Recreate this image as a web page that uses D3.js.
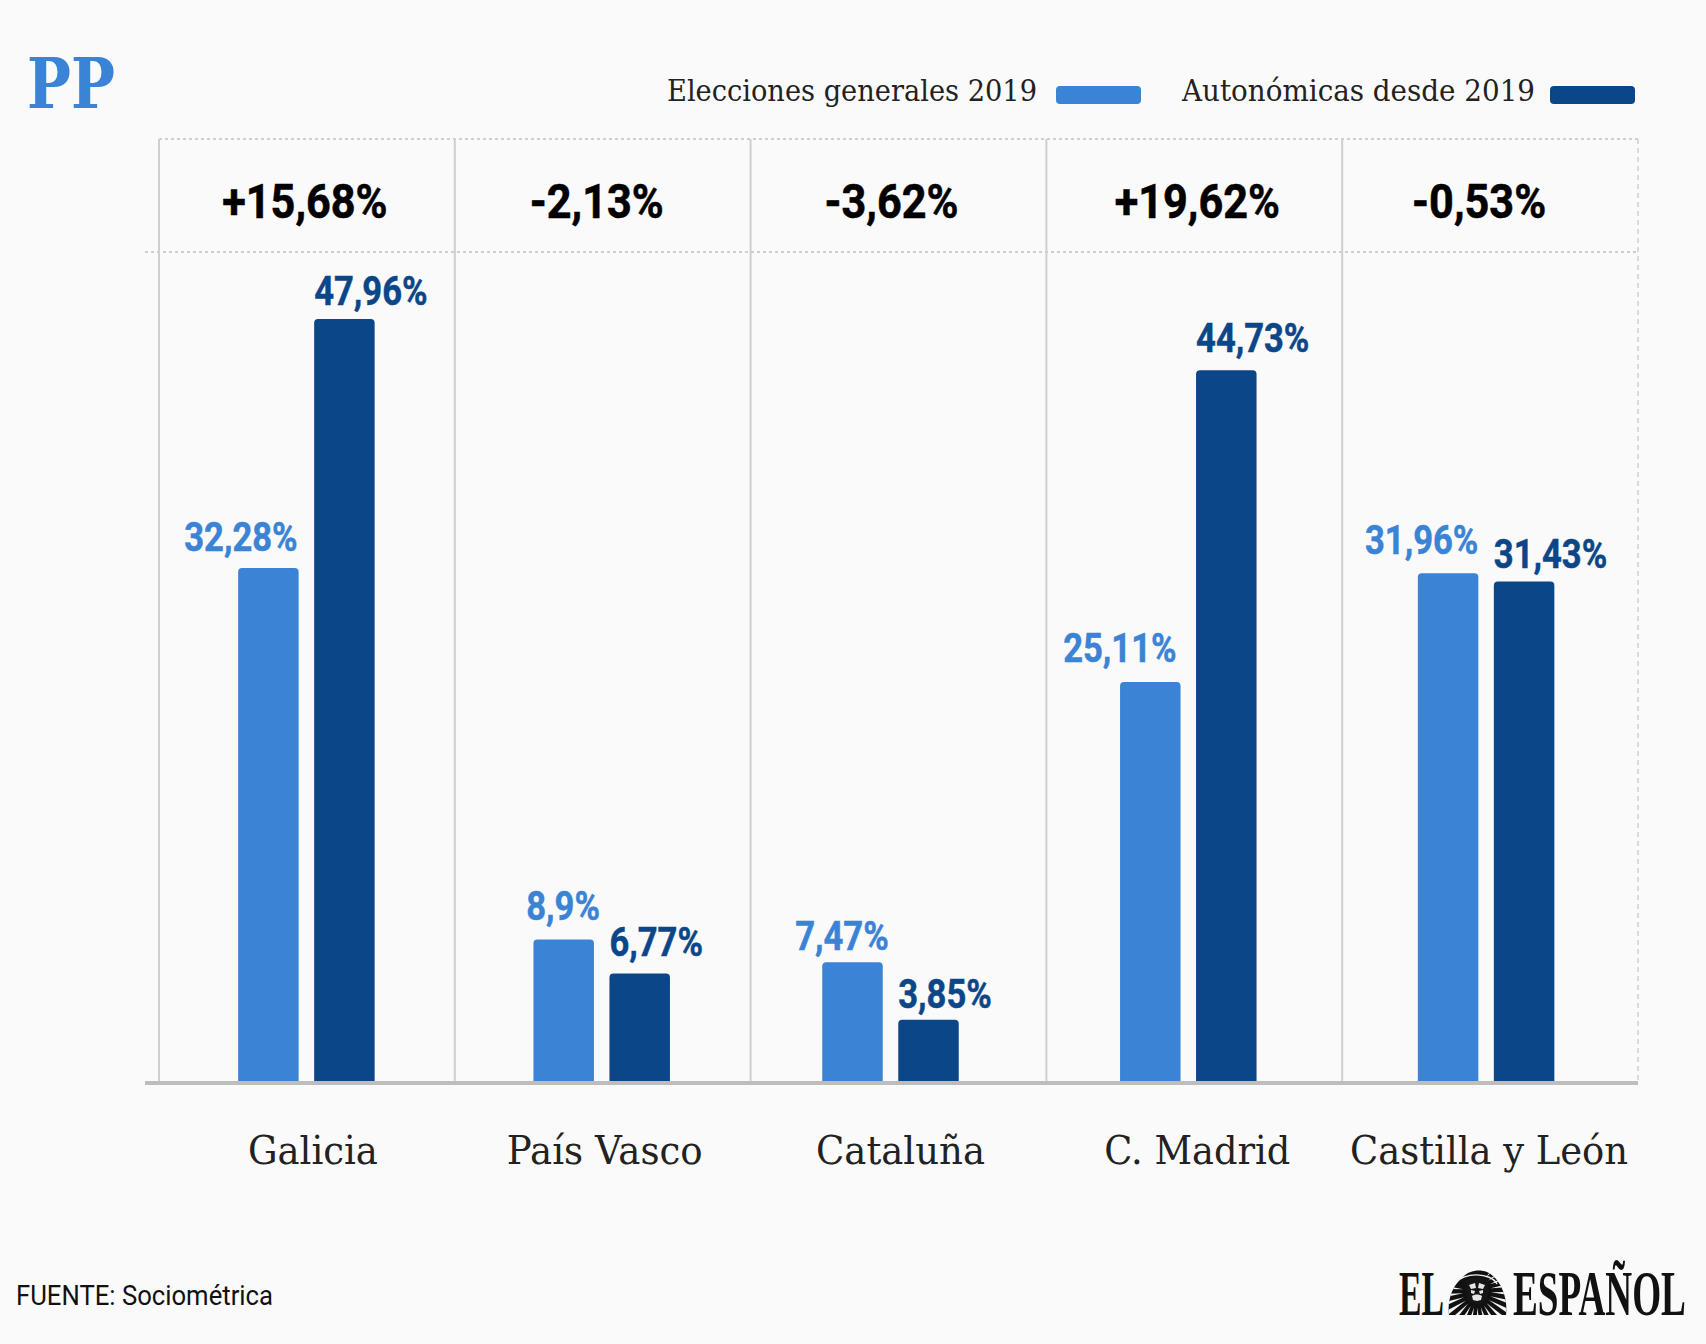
<!DOCTYPE html>
<html lang="es">
<head>
<meta charset="utf-8">
<title>PP: elecciones generales y autonómicas</title>
<script src="https://cdn.jsdelivr.net/npm/d3@7/dist/d3.min.js"></script>
<style>
  html, body { margin: 0; padding: 0; background: #fafafa; }
  svg { display: block; }
</style>
</head>
<body>
<svg id="chart" width="1706" height="1344"></svg>
<script>
// Vote share of the PP per region
const regions = ["Galicia", "País Vasco", "Cataluña", "C. Madrid", "Castilla y León"];
const generales = [32.28, 8.9, 7.47, 25.11, 31.96];
const autonomicas = [47.96, 6.77, 3.85, 44.73, 31.43];
const diferencias = ["+15,68%", "-2,13%", "-3,62%", "+19,62%", "-0,53%"];
const generalesLabels = ["32,28%", "8,9%", "7,47%", "25,11%", "31,96%"];
const autonomicasLabels = ["47,96%", "6,77%", "3,85%", "44,73%", "31,43%"];
const seriesNames = ["Elecciones generales 2019", "Autonómicas desde 2019"];

// Layout
const W = 1706, H = 1344;
const baseY = 1081, panelTop = 139, panelSplit = 252;
const gridLeft = 159, gridRight = 1638;
const barW = 60.5, barGap = 15.5;
const LIGHT = "#3b83d5", DARK = "#0b4689", GRID = "#cfcfcf";
const SERIF = "'DejaVu Serif', serif", SANS = "Roboto, sans-serif";

// Per-region hand adjustments of the groups and labels
const groupNudge = [-0.5, -1, -8, -6, -4];
const categoryNudge = [6, 2, 2, 3, -1];
const diffNudge = [-2, -6, -7, 3, -11];
const lightLabelDx = [-1, 6, 6, -4, 0];
const lightLabelLift = [17, 20, 12, 20, 19];
const darkLabelLift = [14, 17, 12, 18, 14];

const svg = d3.select("#chart");
svg.append("rect").attr("width", W).attr("height", H).attr("fill", "#fafafa");

const x = d3.scaleBand().domain(regions).range([gridLeft, gridRight]);
const y = d3.scaleLinear().domain([0, 50]).range([baseY, baseY - 794.5]);

// Squeezes a text horizontally around its anchor to mimic a condensed cut
function condense(sel, ratio) {
  sel.each(function () {
    const len = this.getComputedTextLength();
    this.setAttribute("textLength", len * ratio);
    this.setAttribute("lengthAdjust", "spacingAndGlyphs");
  });
  return sel;
}
function fitWidth(sel, width) {
  sel.attr("textLength", width).attr("lengthAdjust", "spacingAndGlyphs");
  return sel;
}

// Gridlines
const grid = svg.append("g");
const edges = regions.map(r => x(r));
grid.selectAll("line.v").data(edges).join("line").attr("class", "v")
  .attr("x1", d => d).attr("x2", d => d)
  .attr("y1", panelTop).attr("y2", baseY)
  .attr("stroke", GRID).attr("stroke-width", 2);
grid.append("line")
  .attr("x1", gridRight).attr("x2", gridRight).attr("y1", panelTop).attr("y2", baseY)
  .attr("stroke", GRID).attr("stroke-width", 1.5).attr("stroke-dasharray", "5 4");
grid.append("line")
  .attr("x1", gridLeft).attr("x2", gridRight).attr("y1", panelTop).attr("y2", panelTop)
  .attr("stroke", GRID).attr("stroke-width", 2).attr("stroke-dasharray", "3 3");
grid.append("line")
  .attr("x1", 145).attr("x2", gridRight).attr("y1", panelSplit).attr("y2", panelSplit)
  .attr("stroke", GRID).attr("stroke-width", 2).attr("stroke-dasharray", "3 3");

// Bars with slightly rounded tops
function barPath(x0, w, top, bottom, r) {
  const p = d3.path();
  p.moveTo(x0, bottom);
  p.lineTo(x0, top + r);
  p.quadraticCurveTo(x0, top, x0 + r, top);
  p.lineTo(x0 + w - r, top);
  p.quadraticCurveTo(x0 + w, top, x0 + w, top + r);
  p.lineTo(x0 + w, bottom);
  p.closePath();
  return p.toString();
}
const center = (i) => x(regions[i]) + x.bandwidth() / 2 + groupNudge[i];
const lightX = (i) => center(i) - barGap / 2 - barW;
const darkX = (i) => center(i) + barGap / 2;

svg.append("g").selectAll("path").data(generales).join("path")
  .attr("d", (d, i) => barPath(lightX(i), barW, y(d), baseY, 4))
  .attr("fill", LIGHT);
svg.append("g").selectAll("path").data(autonomicas).join("path")
  .attr("d", (d, i) => barPath(darkX(i), barW, y(d), baseY, 4))
  .attr("fill", DARK);

// Baseline
svg.append("line")
  .attr("x1", 145).attr("x2", gridRight).attr("y1", baseY + 2).attr("y2", baseY + 2)
  .attr("stroke", "#bdbdbd").attr("stroke-width", 4);

// Bar value labels
svg.append("g").selectAll("text").data(generales).join("text")
  .attr("x", (d, i) => lightX(i) + barW + lightLabelDx[i])
  .attr("y", (d, i) => y(d) - lightLabelLift[i])
  .attr("text-anchor", "end")
  .attr("font-family", SANS).attr("font-weight", 700).attr("font-size", 40)
  .attr("fill", LIGHT).attr("stroke", LIGHT).attr("stroke-width", 0.5)
  .text((d, i) => generalesLabels[i])
  .call(condense, 0.864);
svg.append("g").selectAll("text").data(autonomicas).join("text")
  .attr("x", (d, i) => darkX(i))
  .attr("y", (d, i) => y(d) - darkLabelLift[i])
  .attr("text-anchor", "start")
  .attr("font-family", SANS).attr("font-weight", 700).attr("font-size", 40)
  .attr("fill", DARK).attr("stroke", DARK).attr("stroke-width", 0.5)
  .text((d, i) => autonomicasLabels[i])
  .call(condense, 0.864);

// Differences in the top strip
svg.append("g").selectAll("text").data(diferencias).join("text")
  .attr("x", (d, i) => x(regions[i]) + x.bandwidth() / 2 + diffNudge[i])
  .attr("y", 218)
  .attr("text-anchor", "middle")
  .attr("font-family", SANS).attr("font-weight", 700).attr("font-size", 49)
  .attr("fill", "#000").attr("stroke", "#000").attr("stroke-width", 0.6)
  .text(d => d)
  .call(condense, 0.882);

// Category labels
const categoryWidths = [130, 196, 169, 186, 278];
svg.append("g").selectAll("text").data(regions).join("text")
  .attr("x", (d, i) => x(d) + x.bandwidth() / 2 + categoryNudge[i])
  .attr("y", 1164)
  .attr("text-anchor", "middle")
  .attr("font-family", SERIF).attr("font-size", 40)
  .attr("fill", "#222")
  .text(d => d)
  .each(function (d, i) {
    this.setAttribute("textLength", categoryWidths[i]);
    this.setAttribute("lengthAdjust", "spacingAndGlyphs");
  });

// Title
svg.append("text").attr("x", 27).attr("y", 108)
  .attr("font-family", SERIF).attr("font-weight", 700).attr("font-size", 69)
  .attr("fill", LIGHT).text("PP")
  .call(fitWidth, 88);

// Legend
const legend = svg.append("g");
const legendTextX = [667, 1182], legendTextW = [370, 353];
const legendSwatchX = [1056, 1550], legendColors = [LIGHT, DARK];
seriesNames.forEach((name, i) => {
  legend.append("text").attr("x", legendTextX[i]).attr("y", 101)
    .attr("font-family", SERIF).attr("font-size", 30).attr("fill", "#222")
    .text(name).call(fitWidth, legendTextW[i]);
  legend.append("rect").attr("x", legendSwatchX[i]).attr("y", 86)
    .attr("width", 85).attr("height", 18).attr("rx", 4)
    .attr("fill", legendColors[i]);
});

// Source note
svg.append("text").attr("x", 16).attr("y", 1305)
  .attr("font-family", SANS).attr("font-size", 28).attr("fill", "#111")
  .text("FUENTE: Sociométrica").call(fitWidth, 257);

// Publisher wordmark, squeezed with a transform so its box stays honest
const logo = svg.append("g");
const logoFont = "'Liberation Serif', serif";
function wordmark(text, left, width) {
  const t = logo.append("text")
    .attr("font-family", logoFont).attr("font-weight", 700).attr("font-size", 64)
    .attr("fill", "#111").text(text);
  const natural = t.node().getComputedTextLength();
  t.attr("transform", `translate(${left},1315) scale(${width / natural},1)`);
}
wordmark("EL", 1399, 45);
wordmark("ESPAÑOL", 1513, 173);

// Lion head: dark mane cut by radial highlights, pale crown band and face marks
const lion = logo.append("g").attr("transform", "translate(1477,1297)");
const manePath = "M-28,18 C-30,2 -24,-12 -14,-20 C-7,-28 8,-29 16,-21 C25,-13 31,2 29,18 Z";
const defs = svg.append("defs");
defs.append("clipPath").attr("id", "mane-clip").append("path").attr("d", manePath);
lion.append("path").attr("d", manePath).attr("fill", "#111");
const rays = lion.append("g").attr("clip-path", "url(#mane-clip)");
d3.range(-125, 126, 14).forEach(a => {
  const t = a * Math.PI / 180;
  const ox = 0, oy = -6;
  const tipX = 14, farX = 42;
  rays.append("path")
    .attr("d", `M${ox + tipX * Math.sin(t + 0.5)},${oy + tipX * Math.cos(t + 0.5) * 1.2}`
      + `L${ox + farX * Math.sin(t + 0.56)},${oy + farX * Math.cos(t + 0.56)}`
      + `L${ox + farX * Math.sin(t + 0.44)},${oy + farX * Math.cos(t + 0.44)} Z`)
    .attr("fill", "#f4f4f4");
});
lion.append("path")
  .attr("d", "M-21,-14 C-14,-25 14,-25 20,-13")
  .attr("fill", "none").attr("stroke", "#f0f0f0").attr("stroke-width", 1.4);
lion.append("path")
  .attr("d", "M-11,-17 C-5,-21 6,-21 11,-17 C13,-8 11,0 7,5 C3,8 -3,8 -7,5 C-11,0 -13,-8 -11,-17 Z")
  .attr("fill", "#151515");
lion.append("path")
  .attr("d", "M-8,-12 L-2,-14 L-1,-9 L-6,-8 Z M8,-12 L2,-14 L1,-9 L6,-8 Z M-6,-7 L-2,-6 L-3,-3 L-6,-4 Z M6,-7 L2,-6 L3,-3 L6,-4 Z M-5,-1 C-2,-3 2,-3 5,-1 L4,3 L0,4 L-4,3 Z")
  .attr("fill", "#e6e6e6");
</script>
</body>
</html>
